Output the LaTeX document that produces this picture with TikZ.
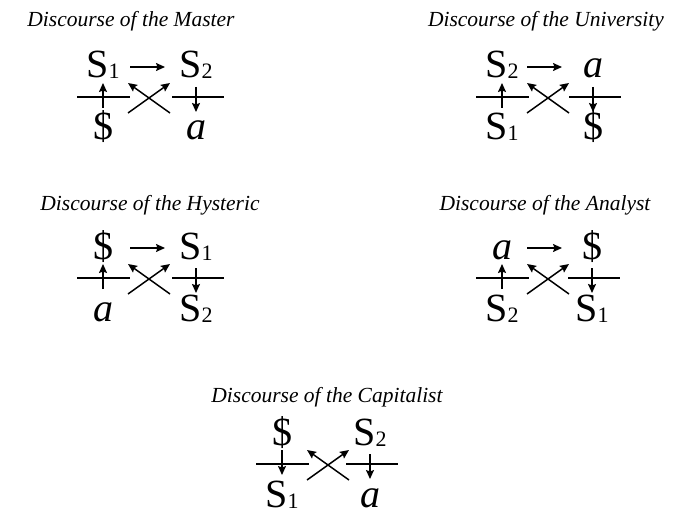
\documentclass[tikz,border=0pt]{standalone}
\usepackage{fontspec}
\setmainfont{Liberation Serif}
\usetikzlibrary{arrows.meta}
\newcommand{\Sx}[1]{S\raisebox{-1pt}{\fontsize{22}{22}\selectfont #1}}
\newcommand{\ai}{\textit{a}}
\newcommand{\lacan}[9]{%
  \node[big] (#1tl) at (#2,#4-19) {#5};
  \node[big] (#1tr) at (#3,#4-19) {#6};
  \node[big] (#1bl) at (#2,#4+43) {#7};
  \node[big] (#1br) at (#3,#4+43) {#8};
  \coordinate (#1lb1) at (#2-26,#4);
  \coordinate (#1lb2) at (#2+27,#4);
  \coordinate (#1rb1) at (#3-24,#4);
  \coordinate (#1rb2) at (#3+28,#4);
  \draw[barline] (#1lb1) -- (#1lb2);
  \draw[barline] (#1rb1) -- (#1rb2);
  \coordinate (#1lvb) at (#2,#4+11);
  \coordinate (#1lvt) at (#2,#4-14);
  \coordinate (#1rvt) at (#3,#4-10);
  \coordinate (#1rvb) at (#3,#4+15);
  \draw[arr,#9] (#1lvb) -- (#1lvt);
  \draw[arr,->] (#1rvt) -- (#1rvb);
  \coordinate (#1c1) at (#2+25,#4+16);
  \coordinate (#1c2) at (#2+67,#4-14);
  \coordinate (#1c3) at (#2+67,#4+16);
  \coordinate (#1c4) at (#2+25,#4-14);
  \draw[arr,->] (#1c1) -- (#1c2);
  \draw[arr,->] (#1c3) -- (#1c4);
}
\newcommand{\toparrow}[3]{%
  \coordinate (#1ha) at (#2+27,#3-30);
  \coordinate (#1hb) at (#2+62,#3-30);
  \draw[arr,->] (#1ha) -- (#1hb);
}
\begin{document}
\begin{tikzpicture}[x=1pt,y=-1pt,
  big/.style={anchor=base,inner sep=0pt,font=\fontsize{40}{42}\selectfont},
  title/.style={anchor=base,inner sep=0pt,font=\fontsize{21.5}{24}\selectfont\itshape},
  barline/.style={line width=1.6pt},
  arr/.style={line width=1.5pt},
  >={Stealth[length=9pt,width=8pt,inset=1.5pt]}]
\useasboundingbox (0,0) rectangle (698,513);
\node[title] (tm) at (131,27) {Discourse of the Master};
\node[title] (tu) at (546,27) {Discourse of the University};
\node[title] (th) at (150,210) {Discourse of the Hysteric};
\node[title] (ta) at (545,210) {Discourse of the Analyst};
\node[title] (tc) at (327,402) {Discourse of the Capitalist};
\lacan{m}{103}{196}{97}{\Sx{1}}{\Sx{2}}{\$}{\ai}{->}
\toparrow{m}{103}{97}
\lacan{u}{502}{593}{97}{\Sx{2}}{\ai}{\Sx{1}}{\$}{->}
\toparrow{u}{500}{97}
\lacan{h}{103}{196}{278}{\$}{\Sx{1}}{\ai}{\Sx{2}}{->}
\toparrow{h}{103}{278}
\lacan{a}{502}{592}{278}{\ai}{\$}{\Sx{2}}{\Sx{1}}{->}
\toparrow{a}{500}{278}
\lacan{c}{282}{370}{464}{\$}{\Sx{2}}{\Sx{1}}{\ai}{<-}
\end{tikzpicture}
\end{document}
